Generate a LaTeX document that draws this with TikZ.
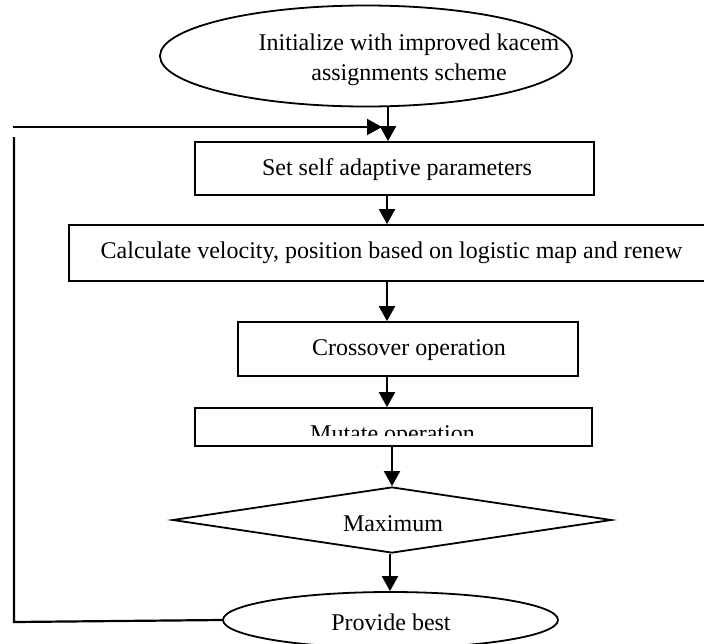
\documentclass[tikz,border=0pt]{standalone}
\usepackage{fontspec}
\setmainfont{Liberation Serif}
\usetikzlibrary{shapes.geometric,arrows.meta}
\begin{document}
\begin{tikzpicture}[x=1pt,y=-1pt,
  shapeline/.style={draw=black,line width=1.8pt,inner sep=0pt},
  boxshape/.style={shapeline,rectangle},
  ellshape/.style={shapeline,ellipse},
  diashape/.style={shapeline,diamond,aspect=6.65},
  txt/.style={font=\fontsize{24}{30}\selectfont,inner sep=0pt,anchor=base,align=center},
  arr/.style={line width=2.2pt,-{Triangle[length=15pt,width=16pt]}},
  plain/.style={line width=2.2pt}]
\useasboundingbox (0,0) rectangle (704,643);
% shapes
\node[ellshape,minimum width=412pt,minimum height=101pt] (top) at (366,56) {};
\node[boxshape,minimum width=399pt,minimum height=53pt] (b1) at (394.5,168.5) {};
\node[boxshape,minimum width=643pt,minimum height=56pt] (b2) at (390.5,253) {};
\node[boxshape,minimum width=340pt,minimum height=54pt] (cross) at (408,349) {};
\node[boxshape,minimum width=397pt,minimum height=38pt] (mut) at (393.5,427) {};
\node[diashape,minimum width=439pt,minimum height=66pt] (dia) at (392,520) {};
\node[ellshape,minimum width=335pt,minimum height=56pt] (bot) at (390.5,620) {};
% texts
\node[txt] (ttop) at (409,80) {Initialize with improved kacem\\assignments scheme};
\node[txt] (tb1) at (397,175) {Set self adaptive parameters};
\node[txt] (tb2) at (391.5,258) {Calculate velocity, position based on logistic map and renew};
\node[txt] (tcross) at (409,355) {Crossover operation};
\begin{scope}
  \clip (195,408) rectangle (592,435.5);
  \node[txt] (tmut) at (392.5,441) {Mutate operation};
\end{scope}
\node[txt] (tdia) at (393,531) {Maximum};
\node[txt] (tbot) at (391,630) {Provide best};
% arrow columns
\coordinate (c1) at (388,0);
\coordinate (c2) at (387,0);
\coordinate (c3) at (390,0);
\draw[arr] (top.south -| c1) -- (b1.north -| c1);
\draw[arr] (b1.south -| c2) -- (b2.north -| c2);
\draw[arr] (b2.south -| c2) -- (cross.north -| c2);
\draw[arr] (cross.south -| c2) -- (mut.north -| c2);
\draw[arr] (mut.south -| dia.north) -- (dia.north);
\draw[arr] (dia.south -| c3) -- (bot.north -| c3);
% feedback loop
\coordinate (fb1) at (14,622);
\coordinate (fb2) at (14,137);
\coordinate (fb3) at (13,127);
\coordinate (fb4) at (382,127);
\draw[plain] (bot.west) -- (fb1) -- (fb2);
\draw[arr] (fb3) -- (fb4);
\end{tikzpicture}
\end{document}
